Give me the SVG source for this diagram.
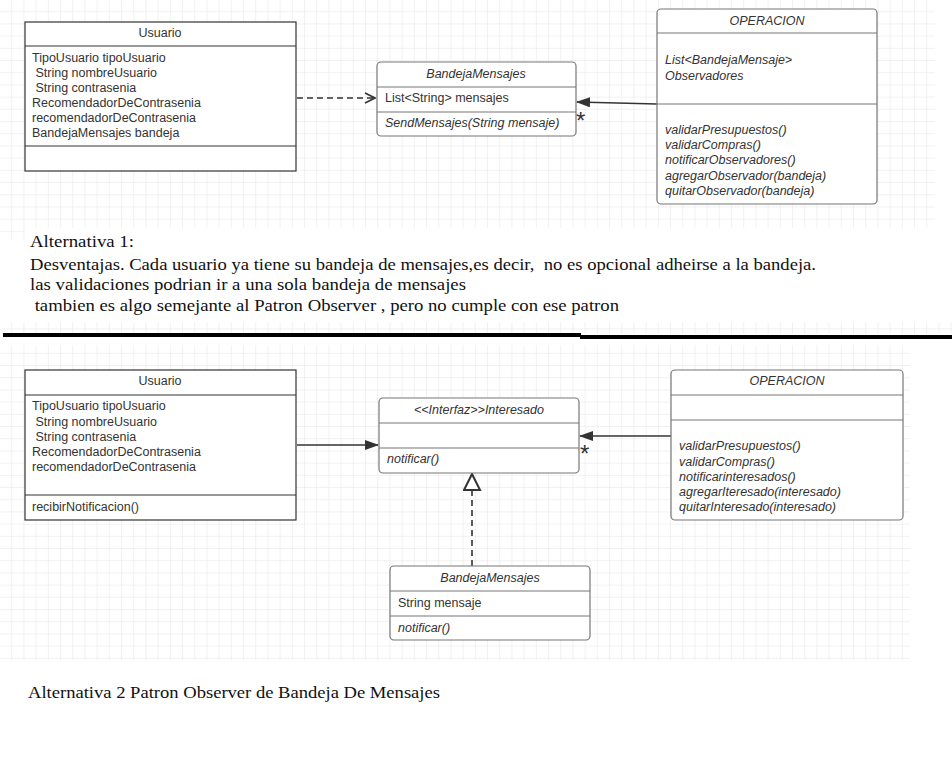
<svg xmlns="http://www.w3.org/2000/svg" width="952" height="763" viewBox="0 0 952 763">
<defs>
<pattern id="grid" width="12.2" height="12.2" patternUnits="userSpaceOnUse">
<path d="M12.2 0 V12.2 M0 12.2 H12.2" fill="none" stroke="#e4e4e4" stroke-width="1"/>
</pattern>
<marker id="open" viewBox="0 0 12 12" refX="11" refY="6" markerWidth="12" markerHeight="12" markerUnits="userSpaceOnUse" orient="auto">
<path d="M1 1 L11 6 L1 11" fill="none" stroke="#333" stroke-width="1.6"/>
</marker>
<marker id="filled" viewBox="0 0 14 10" refX="13" refY="5" markerWidth="14" markerHeight="10" markerUnits="userSpaceOnUse" orient="auto">
<path d="M0 0 L14 5 L0 10 Z" fill="#333"/>
</marker>
<marker id="tri" viewBox="0 0 18 20" refX="17" refY="9" markerWidth="18" markerHeight="20" markerUnits="userSpaceOnUse" orient="auto">
<path d="M1 1 L17 9 L1 17 Z" fill="#fff" stroke="#333" stroke-width="2"/>
</marker>
</defs>
<style>
.box{fill:#fff;stroke:#333;stroke-width:1.2}
.rbox{fill:#fff;stroke:#777;stroke-width:1.2}
.div{stroke:#333;stroke-width:1.2}
.rdiv{stroke:#777;stroke-width:1.2}
.t{font-family:"Liberation Sans",Arial,sans-serif;font-size:12.5px;fill:#333}
.i{font-style:italic}
.c{text-anchor:middle}
.star{font-family:"Liberation Sans",Arial,sans-serif;font-size:24px;fill:#333}
.s{font-family:"Liberation Serif","Times New Roman",serif;fill:#111}
.edge{stroke:#333;stroke-width:1.6;fill:none}
</style>
<rect width="952" height="763" fill="#fff"/>
<rect x="0" y="0" width="935" height="240" fill="url(#grid)"/>
<rect x="0" y="322" width="952" height="12" fill="url(#grid)"/>
<rect x="0" y="345" width="910" height="315" fill="url(#grid)"/>
<rect x="25" y="228" width="910" height="94" fill="#fff"/>

<g id="connectors">
<line class="edge" x1="297" y1="98" x2="375" y2="98" stroke-dasharray="6,4" marker-end="url(#open)"/>
<line class="edge" x1="657" y1="104" x2="577" y2="102" marker-end="url(#filled)"/>
<text class="star" x="576" y="129">*</text>
<line class="edge" x1="297" y1="445" x2="378" y2="445" marker-end="url(#filled)"/>
<line class="edge" x1="671" y1="436" x2="580" y2="436" marker-end="url(#filled)"/>
<text class="star" x="580" y="462">*</text>
<line class="edge" x1="472" y1="566" x2="472" y2="474" stroke-dasharray="6,4" marker-end="url(#tri)"/>
</g>

<g id="usuario1">
<rect class="box" x="25" y="22" width="271" height="149"/>
<line class="div" x1="25" y1="46" x2="296" y2="46"/>
<line class="div" x1="25" y1="146" x2="296" y2="146"/>
<text class="t c" x="160" y="37">Usuario</text>
<text class="t" x="32" y="62">TipoUsuario tipoUsuario</text>
<text class="t" x="32" y="77" xml:space="preserve"> String nombreUsuario</text>
<text class="t" x="32" y="92" xml:space="preserve"> String contrasenia</text>
<text class="t" x="32" y="107">RecomendadorDeContrasenia</text>
<text class="t" x="32" y="122">recomendadorDeContrasenia</text>
<text class="t" x="32" y="137">BandejaMensajes bandeja</text>
</g>

<g id="bandeja1">
<rect class="rbox" x="377" y="62" width="199" height="74" rx="4"/>
<line class="rdiv" x1="377" y1="87" x2="576" y2="87"/>
<line class="rdiv" x1="377" y1="112" x2="576" y2="112"/>
<text class="t i c" x="476" y="78">BandejaMensajes</text>
<text class="t" x="385" y="102">List&lt;String&gt; mensajes</text>
<text class="t i" x="385" y="127">SendMensajes(String mensaje)</text>
</g>

<g id="operacion1">
<rect class="rbox" x="657" y="9" width="220" height="195" rx="4"/>
<line class="rdiv" x1="657" y1="33" x2="877" y2="33"/>
<line class="rdiv" x1="657" y1="104" x2="877" y2="104"/>
<text class="t i c" x="767" y="25">OPERACION</text>
<text class="t i" x="665" y="64">List&lt;BandejaMensaje&gt;</text>
<text class="t i" x="665" y="80">Observadores</text>
<text class="t i" x="665" y="134">validarPresupuestos()</text>
<text class="t i" x="665" y="149">validarCompras()</text>
<text class="t i" x="665" y="164">notificarObservadores()</text>
<text class="t i" x="665" y="180">agregarObservador(bandeja)</text>
<text class="t i" x="665" y="195">quitarObservador(bandeja)</text>
</g>

<g id="nota1">
<text class="s" x="30" y="247" font-size="17" textLength="104" lengthAdjust="spacingAndGlyphs">Alternativa 1:</text>
<text class="s" x="30" y="270" font-size="17" textLength="786" lengthAdjust="spacingAndGlyphs" xml:space="preserve">Desventajas. Cada usuario ya tiene su bandeja de mensajes,es decir,  no es opcional adheirse a la bandeja.</text>
<text class="s" x="30" y="290" font-size="17" textLength="436" lengthAdjust="spacingAndGlyphs">las validaciones podrian ir a una sola bandeja de mensajes</text>
<text class="s" x="30" y="311" font-size="17" textLength="589" lengthAdjust="spacingAndGlyphs" xml:space="preserve"> tambien es algo semejante al Patron Observer , pero no cumple con ese patron</text>
</g>

<g id="separador">
<rect x="3" y="333" width="578" height="4" fill="#000"/>
<rect x="580" y="335" width="372" height="4" fill="#000"/>
</g>

<g id="usuario2">
<rect class="box" x="25" y="370" width="271" height="150"/>
<line class="div" x1="25" y1="395" x2="296" y2="395"/>
<line class="div" x1="25" y1="495" x2="296" y2="495"/>
<text class="t c" x="160" y="385">Usuario</text>
<text class="t" x="32" y="410">TipoUsuario tipoUsuario</text>
<text class="t" x="32" y="426" xml:space="preserve"> String nombreUsuario</text>
<text class="t" x="32" y="441" xml:space="preserve"> String contrasenia</text>
<text class="t" x="32" y="456">RecomendadorDeContrasenia</text>
<text class="t" x="32" y="471">recomendadorDeContrasenia</text>
<text class="t" x="32" y="511">recibirNotificacion()</text>
</g>

<g id="interesado">
<rect class="rbox" x="379" y="398" width="200" height="75" rx="4"/>
<line class="rdiv" x1="379" y1="423" x2="579" y2="423"/>
<line class="rdiv" x1="379" y1="448" x2="579" y2="448"/>
<text class="t i c" x="479" y="414">&lt;&lt;Interfaz&gt;&gt;Interesado</text>
<text class="t i" x="387" y="463">notificar()</text>
</g>

<g id="operacion2">
<rect class="rbox" x="671" y="370" width="232" height="150" rx="4"/>
<line class="rdiv" x1="671" y1="395" x2="903" y2="395"/>
<line class="rdiv" x1="671" y1="420" x2="903" y2="420"/>
<text class="t i c" x="787" y="385">OPERACION</text>
<text class="t i" x="679" y="450">validarPresupuestos()</text>
<text class="t i" x="679" y="466">validarCompras()</text>
<text class="t i" x="679" y="481">notificarinteresados()</text>
<text class="t i" x="679" y="496">agregarIteresado(interesado)</text>
<text class="t i" x="679" y="511">quitarInteresado(interesado)</text>
</g>

<g id="bandeja2">
<rect class="rbox" x="390" y="566" width="200" height="74" rx="4"/>
<line class="rdiv" x1="390" y1="591" x2="590" y2="591"/>
<line class="rdiv" x1="390" y1="616" x2="590" y2="616"/>
<text class="t i c" x="490" y="582">BandejaMensajes</text>
<text class="t" x="398" y="607">String mensaje</text>
<text class="t i" x="398" y="632">notificar()</text>
</g>

<g id="nota2">
<text class="s" x="28" y="698" font-size="17" textLength="412" lengthAdjust="spacingAndGlyphs">Alternativa 2 Patron Observer de Bandeja De Mensajes</text>
</g>
</svg>
